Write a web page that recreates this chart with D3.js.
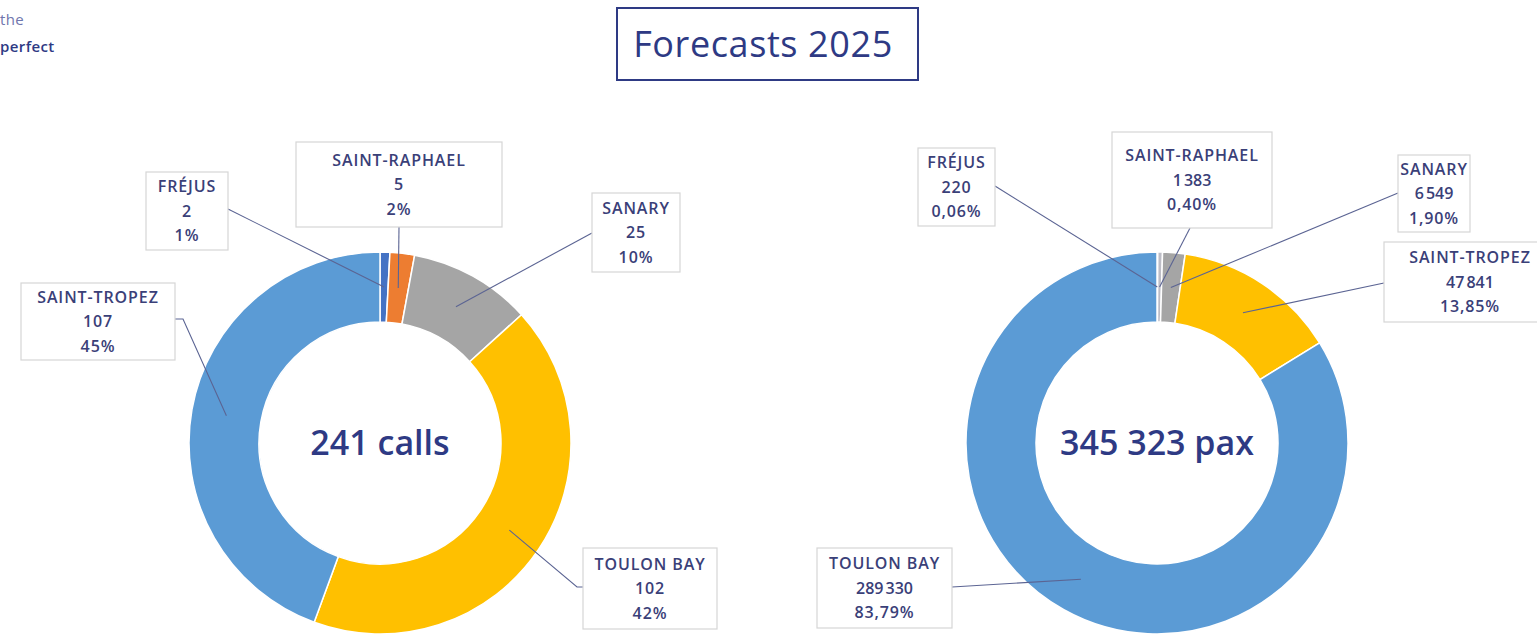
<!DOCTYPE html>
<html>
<head>
<meta charset="utf-8">
<script src="https://cdn.jsdelivr.net/npm/d3@7"></script>
<style>
  body { margin: 0; background: #ffffff; overflow: hidden; }
  svg { display: block; }
</style>
</head>
<body>
<div id="chart"></div>
<script>
// ports, in the order they are drawn round each ring
const callPorts = ["FRÉJUS", "SAINT-RAPHAEL", "SANARY", "TOULON BAY", "SAINT-TROPEZ"];
const callValues = [2, 5, 25, 102, 107];
const callShares = ["1%", "2%", "10%", "42%", "45%"];
const callColors = ["#4472c4", "#ed7d31", "#a5a5a5", "#ffc000", "#5b9bd5"];

const paxPorts = ["FRÉJUS", "SAINT-RAPHAEL", "SANARY", "SAINT-TROPEZ", "TOULON BAY"];
const paxValues = [220, 1383, 6549, 47841, 289330];
const paxShares = ["0,06%", "0,40%", "1,90%", "13,85%", "83,79%"];
const paxColors = ["#f2c9a0", "#bdbdc6", "#a5a5a5", "#ffc000", "#5b9bd5"];

const navy = "#2e3a84";
const labelNavy = "#3a4078";

var W = 1537, H = 636;
var svg = d3.select("#chart").append("svg")
    .attr("width", W)
    .attr("height", H);

// french style thousands
var fr = d3.formatLocale({decimal: ",", thousands: "\u202f", grouping: [3], currency: ["", " €"]});
var fmt = fr.format(",d");

// text in the top left corner
svg.append("text")
    .attr("x", 0).attr("y", 25)
    .style("font-family", "'Open Sans', sans-serif")
    .style("font-size", "15px")
    .style("letter-spacing", "0.4px")
    .style("fill", "#6f76ad")
    .text("the");
svg.append("text")
    .attr("x", 0).attr("y", 52)
    .style("font-family", "'Open Sans', sans-serif")
    .style("font-size", "15px")
    .style("letter-spacing", "0.4px")
    .style("font-weight", 600)
    .style("fill", navy)
    .text("perfect");

// title box
svg.append("rect")
    .attr("x", 617).attr("y", 8)
    .attr("width", 301).attr("height", 72)
    .style("fill", "none")
    .style("stroke", navy)
    .style("stroke-width", 2);
svg.append("text")
    .attr("x", 763).attr("y", 57)
    .attr("text-anchor", "middle")
    .style("font-family", "'Open Sans', sans-serif")
    .style("font-size", "36px")
    .style("letter-spacing", "0.6px")
    .style("fill", navy)
    .text("Forecasts 2025");

// label boxes, placed by hand like in the original (same order as the ports)
var callLayout = [
    {x: 146, y: 172, w: 82, h: 78, ax: 228, ay: 209},
    {x: 296, y: 142, w: 206, h: 85, ax: 399, ay: 227},
    {x: 592, y: 193, w: 88, h: 79, ax: 592, ay: 233},
    {x: 583, y: 548, w: 134, h: 81, ax: 583, ay: 587, ex: 577},
    {x: 21, y: 283, w: 154, h: 77, ax: 175, ay: 319, ex: 183}
];
var paxLayout = [
    {x: 918, y: 148, w: 77, h: 78, ax: 995, ay: 186},
    {x: 1112, y: 132, w: 160, h: 96, ax: 1190, ay: 228},
    {x: 1398, y: 155, w: 72, h: 77, ax: 1398, ay: 193},
    {x: 1384, y: 242, w: 160, h: 80, ax: 1384, ay: 283, tx: 1470},
    {x: 817, y: 548, w: 135, h: 80, ax: 952, ay: 587}
];

drawDonut(380, 443, callPorts, callValues, callShares, callColors, callLayout, "241 calls");
drawDonut(1157, 443, paxPorts, paxValues, paxShares, paxColors, paxLayout, "345 323 pax");

function drawDonut(cx, cy, ports, values, shares, colors, layout, centreText) {
    var data = ports.map(function(p, i) {
        return {port: p, value: values[i], share: shares[i], color: colors[i], pos: layout[i]};
    });

    var pie = d3.pie().sort(null).value(function(d) { return d.value; });
    var arc = d3.arc().innerRadius(121).outerRadius(191);
    var mid = d3.arc().innerRadius(156).outerRadius(156);   //for leader line ends

    var g = svg.append("g").attr("transform", "translate(" + cx + "," + cy + ")");
    var arcs = pie(data);

    g.selectAll("path")
        .data(arcs)
        .enter()
        .append("path")
        .attr("d", arc)
        .style("fill", function(d) { return d.data.color; })
        .style("stroke", "#ffffff")
        .style("stroke-width", 1.5);

    // centre text
    g.append("text")
        .attr("y", 12)
        .attr("text-anchor", "middle")
        .style("font-family", "'Open Sans', sans-serif")
        .style("font-size", "34px")
        .style("font-weight", 600)
        .style("fill", navy)
        .text(centreText);

    // leader lines
    arcs.forEach(function(a) {
        var p = a.data.pos;
        var c = mid.centroid(a);
        var pts = [[p.ax, p.ay]];
        if (p.ex !== undefined) pts.push([p.ex, p.ay]);
        pts.push([cx + c[0], cy + c[1]]);
        svg.append("path")
            .attr("d", d3.line()(pts))
            .style("fill", "none")
            .style("stroke", "#5b6493")
            .style("stroke-width", 1.1);
    });

    // label boxes
    arcs.forEach(function(a) {
        var p = a.data.pos;
        var box = svg.append("g");
        box.append("rect")
            .attr("x", p.x).attr("y", p.y)
            .attr("width", p.w).attr("height", p.h)
            .style("fill", "#ffffff")
            .style("stroke", "#d6d6d6")
            .style("stroke-width", 1.2);
        var lines = [a.data.port, fmt(a.data.value), a.data.share];
        var tx = p.tx !== undefined ? p.tx : p.x + p.w / 2;
        var top = p.y + p.h / 2 - 24;
        lines.forEach(function(t, i) {
            box.append("text")
                .attr("x", tx)
                .attr("y", top + i * 24.5 + 5)
                .attr("text-anchor", "middle")
                .style("font-family", "'Open Sans', sans-serif")
                .style("font-size", "16px")
                .style("letter-spacing", "0.9px")
                .style("font-weight", 600)
                .style("fill", labelNavy)
                .text(t);
        });
    });
}
</script>
</body>
</html>
